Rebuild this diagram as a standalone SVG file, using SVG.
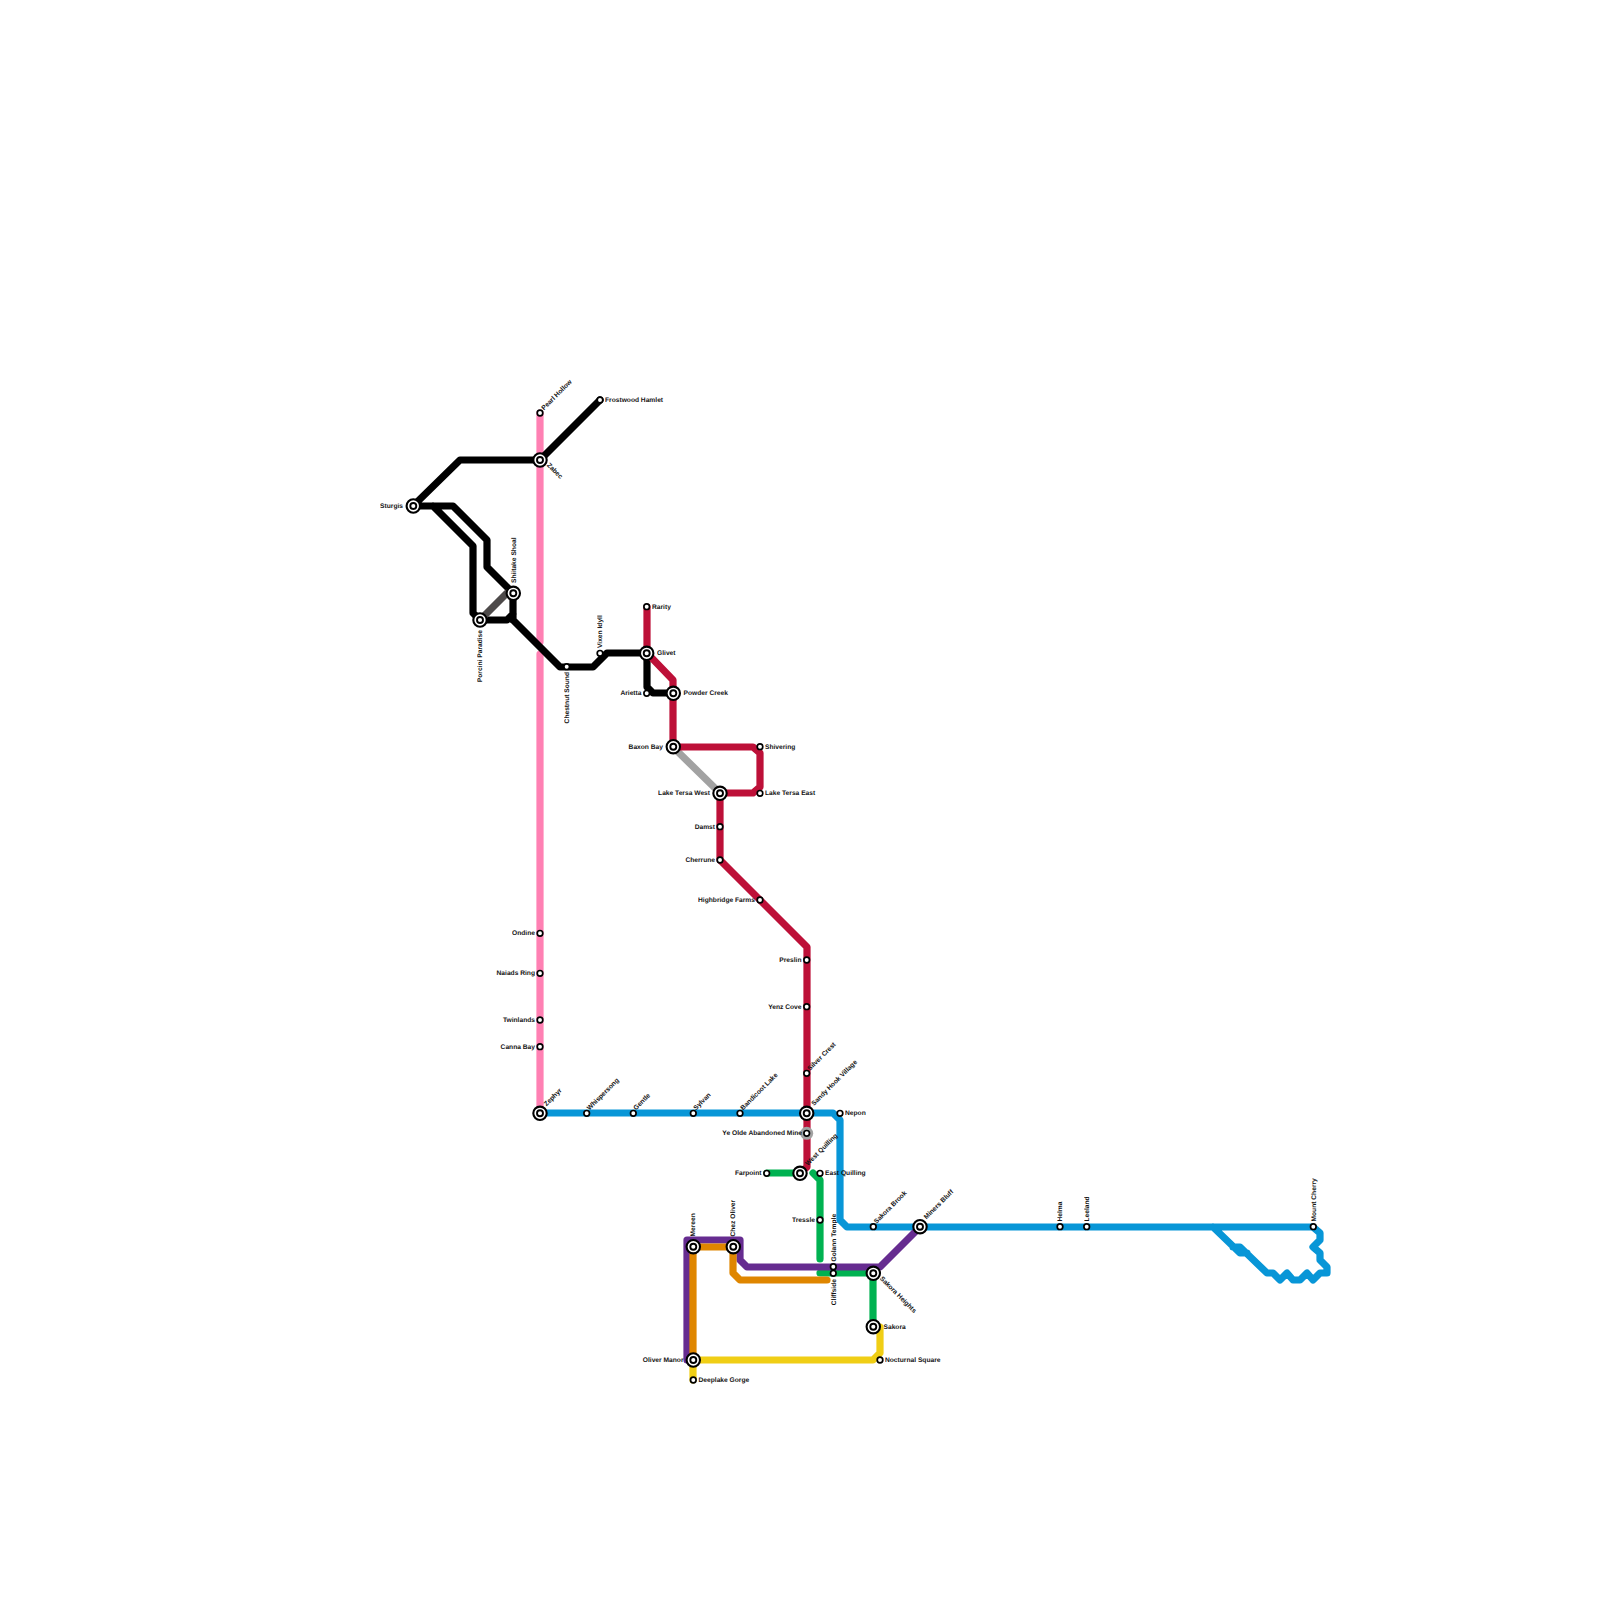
<svg xmlns="http://www.w3.org/2000/svg" width="1600" height="1600" viewBox="0 0 1600 1600">
<style>
.l{fill:none;stroke-width:7.2;stroke-linejoin:round;stroke-linecap:round}
.o{fill:#fff;stroke:#000;stroke-width:2.1}
.i{fill:#fff;stroke:#000;stroke-width:1.9}
.s{fill:#fff;stroke:#000;stroke-width:1.7}
text{font-family:"Liberation Sans",Arial,sans-serif;font-size:6.67px;font-weight:700;fill:#111;text-rendering:geometricPrecision;opacity:.99}
.e{text-anchor:end}
</style>
<rect width="1600" height="1600" fill="#fff"/>
<g id="connectors">
<path class="l" stroke="#ff80b3" d="M540 413V642M540 654V1113"/>
<path class="l" stroke="#000" d="M413 506L460 460H540M540 460L600 400M413 506H453L487 540V567L513 593V620M433 506L473 546V613L480 620M480 620H507L513 614M513 620L540 647L560 667H593L607 653H647M647 653V687L653 693H673"/>
<path class="l" stroke="#4d4a4a" d="M480 620L507 593H513"/>
<path class="l" stroke="#a2a2a2" d="M673 747L720 793"/>
<path class="l" stroke="#bd1038" d="M647 607V653L673 680V747H753L760 753V787L753 793H720V860L807 947V1167L800 1173"/>
<path class="l" stroke="#0896d7" d="M540 1113H833L840 1120V1220L847 1227H1313L1320 1233V1240L1313 1247L1320 1253V1260L1327 1267V1273H1320L1313 1280L1307 1273L1300 1280H1293L1287 1273L1280 1280L1273 1273H1267L1240 1247H1233M1213 1227L1240 1253H1247"/>
<path class="l" stroke="#00b251" d="M767 1173H800M813 1173L820 1180V1259M820 1273H873V1327"/>
<path class="l" stroke="#662c90" d="M693 1360H687V1240H740V1260L747 1267H880L920 1227"/>
<path class="l" stroke="#df8600" d="M693 1360V1247H733V1273L740 1280H827"/>
<path class="l" stroke="#f0ce15" d="M693 1380V1360H873L880 1353V1327H873"/>
</g>
<g id="n1"><circle class="s" cx="540" cy="413" r="2.8"/><text transform="translate(544 410.500) rotate(-45)">Pearl Hollow</text></g>
<g id="n2"><circle class="s" cx="600" cy="400" r="2.8"/><text x="605" y="402">Frostwood Hamlet</text></g>
<g id="n3"><circle class="o" cx="540" cy="460" r="6.700"/><circle class="i" cx="540" cy="460" r="3"/><text transform="translate(546.500 465.500) rotate(45)">Zabec</text></g>
<g id="n4"><circle class="o" cx="413.300" cy="506" r="6.700"/><circle class="i" cx="413.300" cy="506" r="3"/><text class="e" x="403" y="508">Sturgis</text></g>
<g id="n5"><circle class="o" cx="480" cy="620" r="6.700"/><circle class="i" cx="480" cy="620" r="3"/><text class="e" transform="translate(482 630) rotate(-90)">Porcini Paradise</text></g>
<g id="n6"><circle class="o" cx="513.300" cy="593.300" r="6.700"/><circle class="i" cx="513.300" cy="593.300" r="3"/><text transform="translate(515.500 583) rotate(-90)">Shiitake Shoal</text></g>
<g id="n7"><circle class="s" cx="566.700" cy="666.700" r="2.800"/><text class="e" transform="translate(569 672) rotate(-90)">Chestnut Sound</text></g>
<g id="n8"><circle class="s" cx="600" cy="653.300" r="2.800"/><text transform="translate(602.300 648) rotate(-90)">Vixen Idyll</text></g>
<g id="n9"><circle class="s" cx="646.700" cy="606.700" r="2.800"/><text x="652" y="608.500">Rarity</text></g>
<g id="n10"><circle class="o" cx="646.700" cy="653.300" r="6.700"/><circle class="i" cx="646.700" cy="653.300" r="3"/><text x="657" y="655">Glivet</text></g>
<g id="n11"><circle class="s" cx="646.700" cy="693.300" r="2.800"/><text class="e" x="641.500" y="695">Arietta</text></g>
<g id="n12"><circle class="o" cx="673.300" cy="693.300" r="6.700"/><circle class="i" cx="673.300" cy="693.300" r="3"/><text x="683.500" y="695">Powder Creek</text></g>
<g id="n13"><circle class="o" cx="673.300" cy="746.700" r="6.700"/><circle class="i" cx="673.300" cy="746.700" r="3"/><text class="e" x="663" y="748.500">Baxon Bay</text></g>
<g id="n14"><circle class="s" cx="760" cy="746.700" r="2.800"/><text x="765" y="748.500">Shivering</text></g>
<g id="n15"><circle class="s" cx="760" cy="793.300" r="2.800"/><text x="765" y="795">Lake Tersa East</text></g>
<g id="n16"><circle class="o" cx="720" cy="793.300" r="6.700"/><circle class="i" cx="720" cy="793.300" r="3"/><text class="e" x="710" y="795">Lake Tersa West</text></g>
<g id="n17"><circle class="s" cx="720" cy="826.700" r="2.800"/><text class="e" x="715" y="828.500">Damst</text></g>
<g id="n18"><circle class="s" cx="720" cy="860" r="2.800"/><text class="e" x="715" y="862">Cherrune</text></g>
<g id="n19"><circle class="s" cx="760" cy="900" r="2.800"/><text class="e" x="755" y="902">Highbridge Farms</text></g>
<g id="n20"><circle class="s" cx="806.700" cy="960" r="2.800"/><text class="e" x="801.500" y="962">Preslin</text></g>
<g id="n21"><circle class="s" cx="806.700" cy="1006.700" r="2.800"/><text class="e" x="801.500" y="1008.500">Yenz Cove</text></g>
<g id="n22"><circle class="s" cx="806.700" cy="1073.300" r="2.800"/><text transform="translate(810 1071) rotate(-45)">Silver Crest</text></g>
<g id="n23"><circle class="o" cx="806.700" cy="1113.300" r="6.700"/><circle class="i" cx="806.700" cy="1113.300" r="3"/><text transform="translate(814 1106) rotate(-45)">Sandy Hook Village</text></g>
<g id="n24"><circle cx="806.700" cy="1133.300" r="6.500" fill="#a2a2a2"/><circle class="s" cx="806.700" cy="1133.300" r="2.800"/><text class="e" x="802" y="1135">Ye Olde Abandoned Mine</text></g>
<g id="n25"><circle class="o" cx="800" cy="1173.300" r="6.700"/><circle class="i" cx="800" cy="1173.300" r="3"/><text transform="translate(808 1166) rotate(-45)">West Quilling</text></g>
<g id="n26"><circle class="s" cx="820" cy="1173.300" r="2.800"/><text x="825" y="1175">East Quilling</text></g>
<g id="n27"><circle class="s" cx="840" cy="1113.300" r="2.800"/><text x="845" y="1115">Nepon</text></g>
<g id="n28"><circle class="s" cx="766.700" cy="1173.300" r="2.800"/><text class="e" x="761.500" y="1175">Farpoint</text></g>
<g id="n29"><circle class="s" cx="820" cy="1220" r="2.800"/><text class="e" x="815" y="1222">Tressle</text></g>
<g id="n30"><circle class="s" cx="833.300" cy="1266.700" r="2.800"/><text transform="translate(835.500 1261.500) rotate(-90)">Golann Temple</text></g>
<g id="n31"><circle class="s" cx="833.300" cy="1273.300" r="2.800"/><text class="e" transform="translate(835.500 1279) rotate(-90)">Cliffside</text></g>
<g id="n32"><circle class="o" cx="873.300" cy="1273.300" r="6.700"/><circle class="i" cx="873.300" cy="1273.300" r="3"/><text transform="translate(879.500 1279) rotate(45)">Sakora Heights</text></g>
<g id="n33"><circle class="o" cx="873.300" cy="1326.700" r="6.700"/><circle class="i" cx="873.300" cy="1326.700" r="3"/><text x="883.500" y="1328.500">Sakora</text></g>
<g id="n34"><circle class="s" cx="880" cy="1360" r="2.800"/><text x="885" y="1362">Nocturnal Square</text></g>
<g id="n35"><circle class="o" cx="693.300" cy="1360" r="6.700"/><circle class="i" cx="693.300" cy="1360" r="3"/><text class="e" x="683.500" y="1362">Oliver Manor</text></g>
<g id="n36"><circle class="s" cx="693.300" cy="1380" r="2.800"/><text x="698.500" y="1382">Deeplake Gorge</text></g>
<g id="n37"><circle class="o" cx="693.300" cy="1246.700" r="6.700"/><circle class="i" cx="693.300" cy="1246.700" r="3"/><text transform="translate(695.300 1236.500) rotate(-90)">Mereen</text></g>
<g id="n38"><circle class="o" cx="733.300" cy="1246.700" r="6.700"/><circle class="i" cx="733.300" cy="1246.700" r="3"/><text transform="translate(735.300 1236.500) rotate(-90)">Chez Oliver</text></g>
<g id="n39"><circle class="s" cx="873.300" cy="1226.700" r="2.800"/><text transform="translate(876.500 1224) rotate(-45)">Sakora Brook</text></g>
<g id="n40"><circle class="o" cx="920" cy="1226.700" r="6.700"/><circle class="i" cx="920" cy="1226.700" r="3"/><text transform="translate(926.500 1219.500) rotate(-45)">Miners Bluff</text></g>
<g id="n41"><circle class="s" cx="1060" cy="1226.700" r="2.800"/><text transform="translate(1062.300 1221.500) rotate(-90)">Helma</text></g>
<g id="n42"><circle class="s" cx="1086.700" cy="1226.700" r="2.800"/><text transform="translate(1089 1221.500) rotate(-90)">Leeland</text></g>
<g id="n43"><circle class="s" cx="1313.300" cy="1226.700" r="2.800"/><text transform="translate(1315.500 1221.500) rotate(-90)">Mount Cherry</text></g>
<g id="n44"><circle class="o" cx="540" cy="1113.300" r="6.700"/><circle class="i" cx="540" cy="1113.300" r="3"/><text transform="translate(546.500 1106.500) rotate(-45)">Zephyr</text></g>
<g id="n45"><circle class="s" cx="586.700" cy="1113.300" r="2.800"/><text transform="translate(589.500 1110.500) rotate(-45)">Whispersong</text></g>
<g id="n46"><circle class="s" cx="633.300" cy="1113.300" r="2.800"/><text transform="translate(636 1110.500) rotate(-45)">Gentle</text></g>
<g id="n47"><circle class="s" cx="693.300" cy="1113.300" r="2.800"/><text transform="translate(696 1110.500) rotate(-45)">Sylvan</text></g>
<g id="n48"><circle class="s" cx="740" cy="1113.300" r="2.800"/><text transform="translate(743 1110.500) rotate(-45)">Bandicoot Lake</text></g>
<g id="n49"><circle class="s" cx="540" cy="933.300" r="2.800"/><text class="e" x="535" y="935">Ondine</text></g>
<g id="n50"><circle class="s" cx="540" cy="973.300" r="2.800"/><text class="e" x="535" y="975">Naiads Ring</text></g>
<g id="n51"><circle class="s" cx="540" cy="1020" r="2.800"/><text class="e" x="535" y="1022">Twinlands</text></g>
<g id="n52"><circle class="s" cx="540" cy="1046.700" r="2.800"/><text class="e" x="535" y="1048.500">Canna Bay</text></g>
</svg>
